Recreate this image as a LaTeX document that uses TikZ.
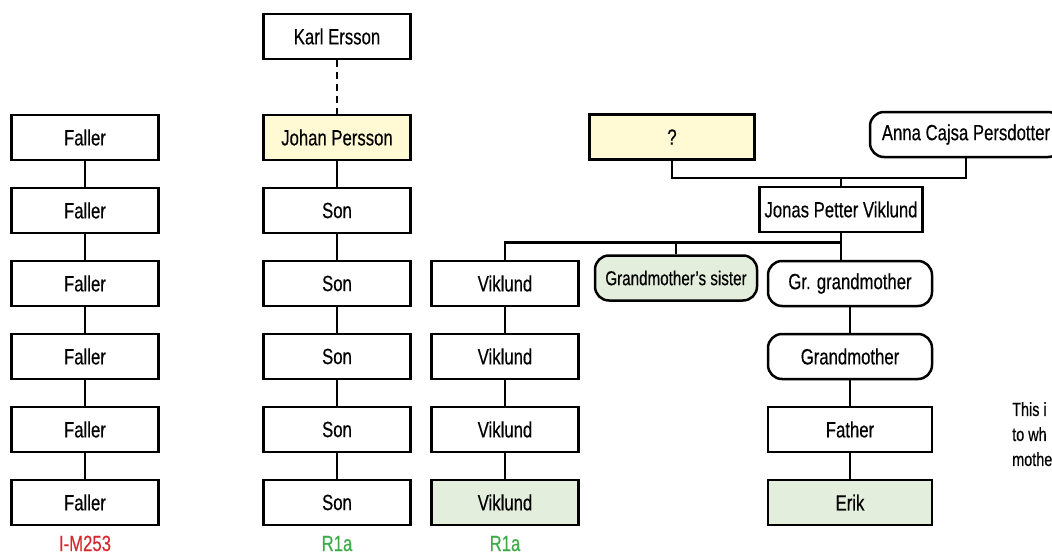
\documentclass[tikz,border=0pt]{standalone}
\usepackage{fontspec}
\setmainfont{Liberation Sans}[FakeStretch=0.76,FakeBold=0.4]
\usepackage{xcolor}
\definecolor{paleyellow}{HTML}{FFFAD4}
\definecolor{palegreen}{HTML}{E3EEDD}
\definecolor{hapred}{HTML}{D7282F}
\definecolor{hapgreen}{HTML}{3DAA47}
\tikzset{
  person/.style={draw, line width=2.5pt, minimum width=147pt, minimum height=45pt,
    inner sep=2pt, font=\fontsize{22}{26}\selectfont},
  woman/.style={person, rounded corners=14pt},
  link/.style={line width=2.5pt},
  hap/.style={inner sep=0pt, anchor=base, font=\fontsize{22}{26}\selectfont}
}

\begin{document}
\begin{tikzpicture}[x=1pt,y=-1pt]
   \useasboundingbox (0,0) rectangle (1052,554);
   \clip (0,0) rectangle (1052,554);
   % Faller line
   \foreach \i in {1,...,6} {%
     \node[person] (f\i) at (85,64.5+73*\i) {Faller};
   }
   \foreach \i [evaluate=\i as \j using int(\i+1)] in {1,...,5} {%
     \draw[link] (f\i) -- (f\j);
   }
   \node[hap,text=hapred] (fhap) at (85,551) {I-M253};
   % Persson line
   \node[person] (karl) at (337,36.5) {Karl Ersson};
   \node[person,fill=paleyellow] (s0) at (337,137.5) {Johan Persson};
   \foreach \i in {1,...,5} {%
     \node[person] (s\i) at (337,137.5+73*\i) {Son};
   }
   \draw[link,dash pattern=on 7pt off 5pt] (karl) -- (s0);
   \foreach \i [evaluate=\i as \j using int(\i+1)] in {0,...,4} {%
     \draw[link] (s\i) -- (s\j);
   }
   \node[hap,text=hapgreen] (shap) at (337,551) {R1a};
   % Viklund line
   \node[person,fill=paleyellow,minimum width=165pt] (q) at (672,137) {?};
   \node[woman,minimum width=192pt] (anna) at (966,134.5) {Anna Cajsa Persdotter};
   \node[person,minimum width=163pt] (jonas) at (841,209.5) {Jonas Petter Viklund};
   \draw[link] (q.south) -- ++(0,17) coordinate (wed) -| (anna.south);
   \draw[link] (jonas.north) -- (jonas.north |- wed);
   \foreach \i in {1,...,3} {%
     \node[person] (v\i) at (505,210.5+73*\i) {Viklund};
   }
   \node[person,fill=palegreen] (v4) at (505,502.5) {Viklund};
   \foreach \i [evaluate=\i as \j using int(\i+1)] in {1,...,3} {%
     \draw[link] (v\i) -- (v\j);
   }
   \node[hap,text=hapgreen] (vhap) at (505,551) {R1a};
   \node[woman,fill=palegreen,minimum width=162pt,inner sep=1pt,
     font=\fontsize{20}{24}\selectfont] (sis) at (676,278) {Grandmother's sister};
   \node[woman,minimum width=164pt] (gg) at (850,283.5) {Gr. grandmother};
   \node[woman,minimum width=164pt] (gm) at (850,356.5) {Grandmother};
   \node[person,minimum width=164pt] (fa) at (850,429.5) {Father};
   \node[person,fill=palegreen,minimum width=164pt] (erik) at (850,502.5) {Erik};
   \draw[link] (jonas.south) -- ++(0,9) coordinate (kids);
   \draw[link] (v1.north) |- (kids);
   \draw[link] (sis.north) -- (sis.north |- kids);
   \draw[link] (kids) -- (kids |- gg.north);
   \draw[link] (gg) -- (gm);
   \draw[link] (gm) -- (fa);
   \draw[link] (fa) -- (erik);
   % note
   \node[anchor=north west,align=left,inner sep=0pt,font=\fontsize{19}{25}\selectfont] (note) at (1012,402) {This i\\to wh\\mothe};
\end{tikzpicture}
\end{document}
